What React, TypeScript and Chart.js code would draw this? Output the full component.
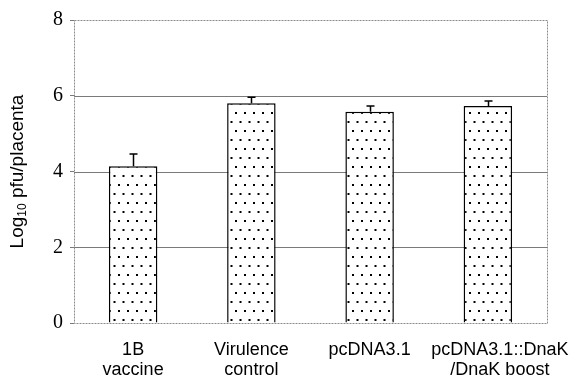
import React, { useEffect, useRef } from "react";
import { Chart, registerables } from "chart.js";

Chart.register(...registerables);

const categories: string[][] = [
  ["1B", "vaccine"],
  ["Virulence", "control"],
  ["pcDNA3.1"],
  ["pcDNA3.1::DnaK", "/DnaK boost"],
];
const means = [4.14, 5.8, 5.58, 5.73];
const errors = [0.32, 0.16, 0.15, 0.13];
const gridValues = [2, 4, 6];
const yMin = 0;
const yMax = 8;

const SANS = "\"Liberation Sans\", Arial, Helvetica, sans-serif";
const SERIF = "\"Liberation Serif\", \"Times New Roman\", serif";

function makePattern(): CanvasPattern | string {
  const c = document.createElement("canvas");
  c.width = 9;
  c.height = 18;
  const g = c.getContext("2d");
  if (!g) return "#fff";
  g.fillStyle = "#fff";
  g.fillRect(0, 0, 9, 18);
  g.fillStyle = "#000";
  g.fillRect(1, 4, 2, 2);
  g.fillRect(5.5, 13, 2, 2);
  const p = g.createPattern(c, "repeat");
  return p || "#fff";
}

const framePlugin = {
  id: "frame",
  beforeDatasetsDraw(chart: any) {
    const { ctx, chartArea } = chart;
    const y = chart.scales.y;
    ctx.save();
    ctx.lineWidth = 1;
    ctx.strokeStyle = "#7a7a7a";
    ctx.setLineDash([]);
    gridValues.forEach((v) => {
      const py = Math.round(y.getPixelForValue(v)) + 0.5;
      ctx.beginPath();
      ctx.moveTo(chartArea.left, py);
      ctx.lineTo(chartArea.right, py);
      ctx.stroke();
    });
    ctx.strokeStyle = "#8a8a8a";
    ctx.setLineDash([2, 1]);
    const l = Math.round(chartArea.left) + 0.5;
    const r = Math.round(chartArea.right) + 0.5;
    const t = Math.round(chartArea.top) + 0.5;
    const b = Math.round(chartArea.bottom) + 0.5;
    ctx.strokeRect(l, t, r - l, b - t);
    ctx.restore();
  },
};

const errorPlugin = {
  id: "errorBars",
  afterDatasetsDraw(chart: any) {
    const { ctx } = chart;
    const y = chart.scales.y;
    const meta = chart.getDatasetMeta(0);
    ctx.save();
    ctx.strokeStyle = "#000";
    ctx.lineWidth = 1.5;
    meta.data.forEach((bar: any, i: number) => {
      const x = Math.round(bar.x) + 0.5;
      const top = y.getPixelForValue(means[i] + errors[i]);
      const base = y.getPixelForValue(means[i]);
      ctx.beginPath();
      ctx.moveTo(x, base);
      ctx.lineTo(x, top);
      ctx.moveTo(x - 4, top);
      ctx.lineTo(x + 4, top);
      ctx.stroke();
    });
    ctx.restore();
  },
};

// draws the category labels under the x scale (last label sits a little right, as in the original)
const xLabelPlugin = {
  id: "xLabels",
  afterDraw(chart: any) {
    const { ctx, chartArea } = chart;
    const x = chart.scales.x;
    const shift = [0, 0, 0, 12];
    ctx.save();
    ctx.fillStyle = "#000";
    ctx.font = "normal 400 18px " + SANS;
    ctx.textAlign = "center";
    ctx.textBaseline = "alphabetic";
    categories.forEach((lines, i) => {
      const cx = x.getPixelForTick(i) + shift[i];
      lines.forEach((t, j) => {
        ctx.fillText(t, cx, chartArea.bottom + 32 + j * 20);
      });
    });
    ctx.restore();
  },
};

const titlePlugin = {
  id: "yTitle",
  afterDraw(chart: any) {
    const { ctx, chartArea } = chart;
    const cy = (chartArea.top + chartArea.bottom) / 2;
    const cx = 18;
    const mainFont = "normal 400 19px " + SANS;
    const subFont = "normal 400 12px " + SANS;
    ctx.save();
    ctx.translate(cx, cy);
    ctx.rotate(-Math.PI / 2);
    ctx.fillStyle = "#000";
    ctx.textAlign = "left";
    ctx.textBaseline = "middle";
    ctx.font = mainFont;
    const w1 = ctx.measureText("Log").width;
    const w3 = ctx.measureText(" pfu/placenta").width;
    ctx.font = subFont;
    const w2 = ctx.measureText("10").width;
    const total = w1 + w2 + w3;
    let x = -total / 2;
    ctx.font = mainFont;
    ctx.fillText("Log", x, 0);
    x += w1;
    ctx.font = subFont;
    ctx.fillText("10", x, 5);
    x += w2;
    ctx.font = mainFont;
    ctx.fillText(" pfu/placenta", x, 0);
    ctx.restore();
  },
};

export default function App() {
  const ref = useRef<HTMLCanvasElement | null>(null);
  useEffect(() => {
    document.body.style.margin = "0";
    if (!ref.current) return;
    const chart = new Chart(ref.current, {
      type: "bar",
      data: {
        labels: categories,
        datasets: [
          {
            data: means,
            backgroundColor: makePattern() as any,
            borderColor: "#000",
            borderWidth: 1.5,
            categoryPercentage: 1,
            barPercentage: 0.41,
          },
        ],
      },
      options: {
        animation: false,
        responsive: false,
        maintainAspectRatio: false,
        layout: { padding: { top: 20, right: 27, left: 0, bottom: 0 } },
        plugins: {
          legend: { display: false },
          tooltip: { enabled: false },
        },
        scales: {
          x: {
            grid: { display: false },
            border: { display: false },
            ticks: { display: false },
            afterFit: (s: any) => {
              s.height = 54;
            },
          },
          y: {
            min: yMin,
            max: yMax,
            grid: {
              drawOnChartArea: false,
              drawTicks: true,
              tickLength: 4,
              color: "#7a7a7a",
            },
            border: { display: false },
            ticks: {
              stepSize: 2,
              color: "#000",
              font: { family: SERIF, size: 20 },
              padding: 7,
            },
            afterFit: (s: any) => {
              s.width = 74;
            },
          },
        },
      },
      plugins: [framePlugin, errorPlugin, xLabelPlugin, titlePlugin],
    });
    return () => chart.destroy();
  }, []);
  return (
    <div style={{ width: 574, height: 377 }}>
      <canvas ref={ref} width={574} height={377} style={{ width: 574, height: 377, display: "block" }} />
    </div>
  );
}
